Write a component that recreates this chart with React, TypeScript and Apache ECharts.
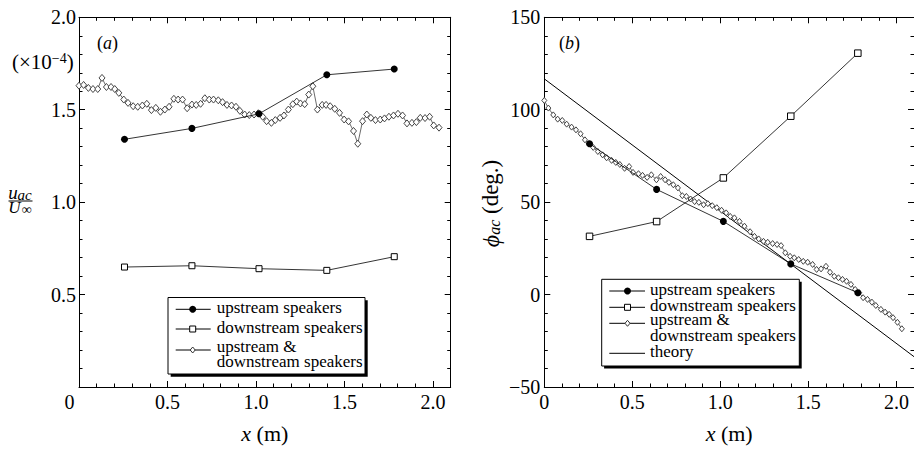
import React, { useEffect, useRef } from "react";
import * as echarts from "echarts";

const FONT = "'Liberation Serif', 'Times New Roman', Times, serif";

// speaker positions (m)
const speakerX = [0.257, 0.638, 1.017, 1.4, 1.781];

// panel (a): u_ac / U_inf (x1e-4)
const aUpstream = [1.34, 1.399, 1.478, 1.689, 1.72];
const aDownstream = [0.649, 0.656, 0.64, 0.631, 0.705];
const aBothX = [
  0.0, 0.026, 0.053, 0.079, 0.106, 0.13, 0.155, 0.181, 0.202, 0.225,
  0.253, 0.277, 0.306, 0.332, 0.358, 0.383, 0.409, 0.434, 0.46, 0.485,
  0.509, 0.536, 0.56, 0.585, 0.611, 0.638, 0.662, 0.687, 0.711, 0.736,
  0.76, 0.787, 0.811, 0.836, 0.862, 0.887, 0.909, 0.936, 0.962, 0.989,
  1.013, 1.038, 1.06, 1.087, 1.109, 1.136, 1.158, 1.183, 1.208, 1.23,
  1.251, 1.275, 1.298, 1.321, 1.347, 1.374, 1.396, 1.419, 1.445, 1.472,
  1.498, 1.523, 1.551, 1.575, 1.602, 1.626, 1.649, 1.675, 1.702, 1.726,
  1.751, 1.777, 1.802, 1.828, 1.853, 1.881, 1.906, 1.928, 1.955, 1.981,
  2.004, 2.034,
];
const aBothY = [
  1.63, 1.634, 1.618, 1.612, 1.612, 1.672, 1.623, 1.623, 1.612, 1.591,
  1.555, 1.537, 1.519, 1.516, 1.523, 1.532, 1.498, 1.51, 1.489, 1.501,
  1.516, 1.559, 1.555, 1.555, 1.508, 1.528, 1.526, 1.532, 1.562, 1.555,
  1.555, 1.551, 1.541, 1.526, 1.523, 1.516, 1.494, 1.474, 1.471, 1.474,
  1.481, 1.462, 1.438, 1.429, 1.444, 1.456, 1.469, 1.501, 1.53, 1.544,
  1.534, 1.53, 1.582, 1.627, 1.501, 1.526, 1.526, 1.519, 1.505, 1.483,
  1.447, 1.437, 1.385, 1.316, 1.438, 1.474, 1.456, 1.444, 1.447, 1.453,
  1.462, 1.469, 1.478, 1.469, 1.426, 1.429, 1.433, 1.456, 1.455, 1.462,
  1.415, 1.403,
];

// panel (b): phase (deg.)
const bUpstream = [81.6, 56.9, 39.6, 16.6, 1.0];
const bDownstream = [31.5, 39.5, 63.1, 96.5, 130.6];
const bBothX = [
  0.0, 0.023, 0.051, 0.076, 0.102, 0.127, 0.155, 0.18, 0.206, 0.231,
  0.253, 0.278, 0.304, 0.331, 0.354, 0.382, 0.406, 0.429, 0.456, 0.482,
  0.504, 0.535, 0.558, 0.584, 0.608, 0.637, 0.661, 0.686, 0.708, 0.733,
  0.759, 0.784, 0.807, 0.831, 0.854, 0.878, 0.905, 0.929, 0.954, 0.98,
  1.007, 1.033, 1.056, 1.08, 1.109, 1.137, 1.169, 1.194, 1.218, 1.245,
  1.269, 1.297, 1.322, 1.345, 1.369, 1.396, 1.42, 1.445, 1.471, 1.496,
  1.524, 1.547, 1.572, 1.6, 1.623, 1.647, 1.671, 1.694, 1.717, 1.742,
  1.766, 1.789, 1.811, 1.836, 1.861, 1.883, 1.912, 1.936, 1.959, 1.981,
  2.006, 2.031,
];
const bBothY = [
  105.0, 100.9, 97.2, 94.9, 94.2, 92.2, 90.6, 89.1, 87.0, 83.7,
  81.6, 79.6, 77.4, 75.6, 74.0, 72.6, 71.5, 70.4, 68.3, 69.3,
  66.1, 65.4, 64.5, 63.4, 64.8, 62.1, 63.9, 62.1, 60.7, 59.4,
  57.7, 53.5, 53.1, 51.7, 50.3, 49.9, 48.6, 49.2, 48.1, 47.0,
  45.6, 44.2, 42.3, 41.5, 39.6, 37.0, 34.0, 31.5, 30.1, 28.8,
  28.3, 27.6, 27.1, 26.5, 22.6, 20.7, 19.9, 19.0, 18.0, 17.5,
  16.3, 13.6, 13.9, 15.3, 12.1, 9.9, 9.1, 8.2, 7.2, 5.5,
  2.8, 1.0, -1.7, -2.6, -4.1, -5.9, -8.0, -9.5, -10.7, -12.5,
  -15.0, -18.5,
];
const theoryX = [0, 2.1];
const theoryY = [116.7, -33.6];

const NAMES = {
  up: "upstream speakers",
  down: "downstream speakers",
  both: "upstream & downstream speakers",
  theory: "theory",
};

const zip = (xs: number[], ys: number[]) => xs.map((x, i) => [x, ys[i]]);

const black = "#000";

function xAxis(grid: number, pos: "bottom" | "top", interval: number, len: number, main: boolean, labels: boolean, leftPanel: boolean) {
  return {
    type: "value",
    gridIndex: grid,
    position: pos,
    min: 0,
    max: 2.1,
    interval,
    axisLine: { show: main, onZero: false, lineStyle: { color: black, width: 1 } },
    axisTick: { show: true, inside: true, length: len, lineStyle: { color: black, width: 1 } },
    splitLine: { show: false },
    axisLabel: {
      show: labels,
      margin: 5,
      color: black,
      fontSize: 20,
      fontFamily: FONT,
      showMaxLabel: false,
      formatter: (v: number) => {
        if (v > 2.05) return "";
        if (Math.abs(v) < 1e-9) return leftPanel ? "{z|0}" : "0";
        return v.toFixed(1);
      },
      rich: { z: { fontSize: 20, fontFamily: FONT, color: black, padding: [0, 19, 0, 0] } },
    },
    ...(labels
      ? {
          name: "{i|x} (m)",
          nameLocation: "middle",
          nameGap: 35,
          nameTextStyle: {
            fontSize: 22,
            fontFamily: FONT,
            color: black,
            rich: { i: { fontSize: 22, fontFamily: FONT, fontStyle: "italic", color: black } },
          },
        }
      : {}),
  };
}

function yAxis(grid: number, pos: "left" | "right", min: number, max: number, interval: number, len: number, main: boolean, labels: boolean, fmt: (v: number) => string, margin: number) {
  return {
    type: "value",
    gridIndex: grid,
    position: pos,
    min,
    max,
    interval,
    axisLine: { show: main, onZero: false, lineStyle: { color: black, width: 1 } },
    axisTick: { show: true, inside: true, length: len, lineStyle: { color: black, width: 1 } },
    splitLine: { show: false },
    axisLabel: { show: labels, margin, color: black, fontSize: 20, fontFamily: FONT, formatter: fmt },
  };
}

const fmtA = (v: number) => (Math.abs(v) < 1e-9 ? "" : v.toFixed(1));
const fmtB = (v: number) => (v < 0 ? "\u2212" + Math.abs(v) : String(v));

const legText = (x: number, y: number, t: string, lh = 13) => ({
  type: "text",
  x,
  y,
  z: 102,
  silent: true,
  style: { text: t, fontSize: 17, lineHeight: lh, fontFamily: FONT, fill: black, align: "left", verticalAlign: "middle" },
});
const legLine = (x1: number, x2: number, y: number) => ({
  type: "line",
  z: 101,
  silent: true,
  shape: { x1, y1: y, x2, y2: y },
  style: { stroke: black, lineWidth: 1 },
});
const legCircle = (cx: number, cy: number) => ({ type: "circle", z: 102, silent: true, shape: { cx, cy, r: 3.5 }, style: { fill: black } });
const legSquare = (cx: number, cy: number) => ({
  type: "rect",
  z: 102,
  silent: true,
  shape: { x: cx - 3, y: cy - 3, width: 6, height: 6 },
  style: { fill: "#fff", stroke: black, lineWidth: 1 },
});
const legDiamond = (cx: number, cy: number) => ({
  type: "polygon",
  z: 102,
  silent: true,
  shape: { points: [[cx, cy - 3], [cx + 2.5, cy], [cx, cy + 3], [cx - 2.5, cy]] },
  style: { fill: "#fff", stroke: "#333", lineWidth: 1 },
});
const legBox = (x: number, y: number, w: number, h: number, off: number) => [
  { type: "rect", z: 99, silent: true, shape: { x: x + off, y: y + off, width: w, height: h }, style: { fill: black } },
  { type: "rect", z: 100, silent: true, shape: { x, y, width: w, height: h }, style: { fill: "#fff", stroke: black, lineWidth: 1 } },
];

const symText = (x: number, y: number, t: string, fs: number, italic: boolean) => ({
  type: "text",
  x,
  y,
  silent: true,
  style: {
    text: t,
    fontSize: fs,
    lineHeight: fs * 0.7,
    fontFamily: FONT,
    fontStyle: italic ? "italic" : "normal",
    fill: black,
    align: "left",
    verticalAlign: "middle",
  },
});

function buildOption() {
  const lineCommon = { type: "line", showAllSymbol: true, animation: false, clip: true };
  const series = [
    {
      ...lineCommon,
      name: NAMES.both,
      xAxisIndex: 0,
      yAxisIndex: 0,
      data: zip(aBothX, aBothY),
      symbol: "diamond",
      symbolSize: [6, 7],
      itemStyle: { color: "#fff", borderColor: "#333", borderWidth: 0.9 },
      lineStyle: { color: "#444", width: 0.8 },
      z: 2,
    },
    {
      ...lineCommon,
      name: NAMES.up,
      xAxisIndex: 0,
      yAxisIndex: 0,
      data: zip(speakerX, aUpstream),
      symbol: "circle",
      symbolSize: 7,
      itemStyle: { color: black },
      lineStyle: { color: black, width: 0.8 },
      z: 3,
    },
    {
      ...lineCommon,
      name: NAMES.down,
      xAxisIndex: 0,
      yAxisIndex: 0,
      data: zip(speakerX, aDownstream),
      symbol: "rect",
      symbolSize: 6,
      itemStyle: { color: "#fff", borderColor: black, borderWidth: 1 },
      lineStyle: { color: black, width: 0.8 },
      z: 3,
    },
    {
      ...lineCommon,
      name: NAMES.theory,
      xAxisIndex: 4,
      yAxisIndex: 4,
      data: zip(theoryX, theoryY),
      symbol: "none",
      lineStyle: { color: black, width: 1 },
      z: 1,
    },
    {
      ...lineCommon,
      name: NAMES.both,
      xAxisIndex: 4,
      yAxisIndex: 4,
      data: zip(bBothX, bBothY),
      symbol: "diamond",
      symbolSize: [5, 6],
      itemStyle: { color: "#fff", borderColor: "#333", borderWidth: 0.9 },
      lineStyle: { color: "#444", width: 0.8 },
      z: 2,
    },
    {
      ...lineCommon,
      name: NAMES.up,
      xAxisIndex: 4,
      yAxisIndex: 4,
      data: zip(speakerX, bUpstream),
      symbol: "circle",
      symbolSize: 7,
      itemStyle: { color: black },
      lineStyle: { color: black, width: 0.8 },
      z: 3,
    },
    {
      ...lineCommon,
      name: NAMES.down,
      xAxisIndex: 4,
      yAxisIndex: 4,
      data: zip(speakerX, bDownstream),
      symbol: "rect",
      symbolSize: 6.5,
      itemStyle: { color: "#fff", borderColor: black, borderWidth: 1 },
      lineStyle: { color: black, width: 0.8 },
      z: 3,
    },
  ];

  const graphic: any[] = [
    // panel labels
    {
      type: "text", x: 97, y: 43.3, silent: true,
      style: {
        text: "({i|a})", fontSize: 18, fontFamily: FONT, fill: black, align: "left", verticalAlign: "middle",
        rich: { i: { fontSize: 18, fontFamily: FONT, fontStyle: "italic", fill: black } },
      },
    },
    {
      type: "text", x: 559, y: 43.3, silent: true,
      style: {
        text: "({i|b})", fontSize: 18, fontFamily: FONT, fill: black, align: "left", verticalAlign: "middle",
        rich: { i: { fontSize: 18, fontFamily: FONT, fontStyle: "italic", fill: black } },
      },
    },
    // scale factor
    {
      type: "text", x: 12, y: 61.5, silent: true,
      style: {
        text: "{n|(\u00d710}{e|\u22124}{n|)}", align: "left", verticalAlign: "middle",
        rich: {
          n: { fontSize: 21, lineHeight: 21, fontFamily: FONT, fill: black },
          e: { fontSize: 14, lineHeight: 10, fontFamily: FONT, fill: black, verticalAlign: "top" },
        },
      },
    },
    // left y title: u_ac / U_inf
    symText(8.3, 192.9, "u", 19, true),
    symText(17.6, 195.4, "ac", 15, true),
    { type: "line", silent: true, shape: { x1: 8.5, y1: 201, x2: 32.5, y2: 201 }, style: { stroke: black, lineWidth: 1 } },
    symText(8.3, 207.6, "U", 17, true),
    symText(21.7, 209.5, "\u221e", 14, false),
    // right y title: phi_ac (deg.)
    {
      type: "text", x: 490.5, y: 203.5, rotation: Math.PI / 2, silent: true,
      style: {
        text: "{p|\u03d5}{s|ac}{n| (deg.)}", align: "center", verticalAlign: "middle",
        rich: {
          p: { fontSize: 24, lineHeight: 24, fontFamily: FONT, fontStyle: "italic", fill: black },
          s: { fontSize: 16, lineHeight: 16, fontFamily: FONT, fontStyle: "italic", fill: black, verticalAlign: "bottom" },
          n: { fontSize: 23, lineHeight: 24, fontFamily: FONT, fill: black },
        },
      },
    },
    // legend (a)
    ...legBox(168, 297.5, 197, 76.5, 2.7),
    legLine(175.7, 210.7, 309.3), legCircle(192.7, 309.3), legText(216.7, 307.8, NAMES.up),
    legLine(175.7, 210.7, 329), legSquare(192.7, 329), legText(216.7, 327.5, NAMES.down),
    legLine(175.7, 210.7, 350), legDiamond(192.7, 350), legText(216.7, 354, "upstream &\ndownstream speakers", 14.4),
    // legend (b)
    ...legBox(601.7, 279.3, 197.6, 86.7, 2.4),
    legLine(609.3, 645, 291), legCircle(627.5, 291), legText(650, 289.5, NAMES.up),
    legLine(609.3, 645, 307.3), legSquare(627.5, 307.3), legText(650, 305.8, NAMES.down),
    legLine(609.3, 645, 323.3), legDiamond(627.5, 323.3), legText(650, 327.2, "upstream &\ndownstream speakers", 16.2),
    legLine(609.3, 645, 353.3), legText(650, 351.8, NAMES.theory),
  ];

  return {
    animation: false,
    backgroundColor: "#fff",
    textStyle: { fontFamily: FONT },
    grid: [
      { left: 79, top: 17.3, width: 371.7, height: 370.4, containLabel: false },
      { left: 544.3, top: 17.3, width: 370.5, height: 370.4, containLabel: false },
    ],
    xAxis: [
      xAxis(0, "bottom", 0.5, 6, true, true, true),
      xAxis(0, "top", 0.5, 6, true, false, true),
      xAxis(0, "bottom", 0.1, 3.5, false, false, true),
      xAxis(0, "top", 0.1, 3.5, false, false, true),
      xAxis(1, "bottom", 0.5, 6, true, true, false),
      xAxis(1, "top", 0.5, 6, true, false, false),
      xAxis(1, "bottom", 0.1, 3.5, false, false, false),
      xAxis(1, "top", 0.1, 3.5, false, false, false),
    ],
    yAxis: [
      yAxis(0, "left", 0, 2, 0.5, 6, true, true, fmtA, 3),
      yAxis(0, "right", 0, 2, 0.5, 6, true, false, fmtA, 3),
      yAxis(0, "left", 0, 2, 0.1, 3.5, false, false, fmtA, 3),
      yAxis(0, "right", 0, 2, 0.1, 3.5, false, false, fmtA, 3),
      yAxis(1, "left", -50, 150, 50, 6, true, true, fmtB, 4),
      yAxis(1, "right", -50, 150, 50, 6, true, false, fmtB, 4),
      yAxis(1, "left", -50, 150, 10, 3.5, false, false, fmtB, 4),
      yAxis(1, "right", -50, 150, 10, 3.5, false, false, fmtB, 4),
    ],
    series,
    graphic,
  };
}

export default function App() {
  const ref = useRef<HTMLDivElement>(null);
  useEffect(() => {
    if (!ref.current) return;
    const chart = echarts.init(ref.current, null, { renderer: "svg" });
    chart.setOption(buildOption() as any);
    return () => chart.dispose();
  }, []);
  return (
    <div
      ref={ref}
      style={{ position: "fixed", left: 0, top: 0, width: 914, height: 449, background: "#fff" }}
    />
  );
}
